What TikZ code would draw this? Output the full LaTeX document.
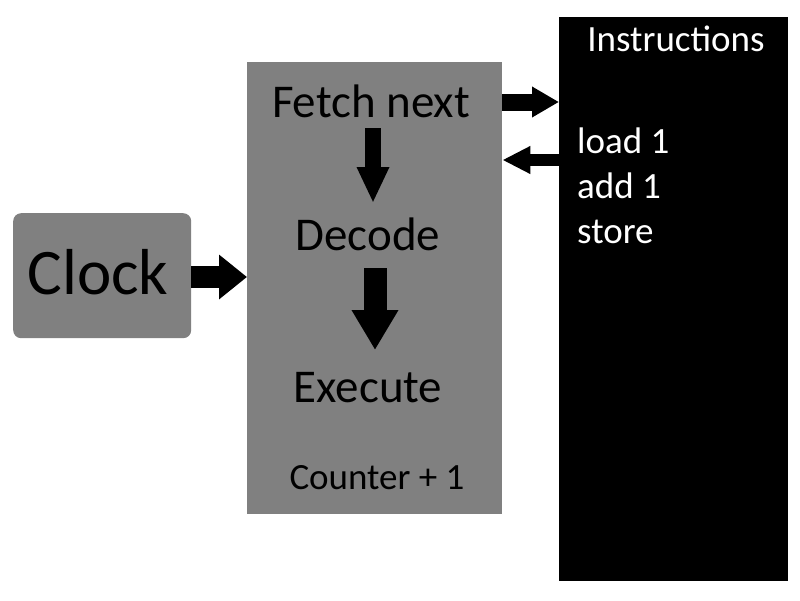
\documentclass[tikz,border=0pt]{standalone}
\usepackage{fontspec}
\setmainfont{Carlito}
\usetikzlibrary{arrows.meta,calc}
\definecolor{boxgray}{HTML}{808080}
\tikzset{
  graybox/.style={fill=boxgray, draw=none, inner sep=0pt, anchor=north west},
  blackbox/.style={fill=black, draw=none, inner sep=0pt, anchor=north west},
  lbl/.style={inner sep=0pt, anchor=base},
  blockarrow/.style n args={3}{draw=black, line width=#1pt, line cap=butt,
     -{Triangle[length=#2pt, width=#3pt]}}
}
\begin{document}
\begin{tikzpicture}[x=1pt, y=-1pt]
\useasboundingbox (0,0) rectangle (800,600);
\fill[white] (0,0) rectangle (800,600);
% boxes
\node[graybox, rounded corners=8pt, minimum width=178pt, minimum height=125pt] (clock) at (13,213) {};
\node[graybox, minimum width=255pt, minimum height=452pt] (cpu) at (247,62) {};
\node[blackbox, minimum width=229pt, minimum height=564pt] (instr) at (559,17) {};
% texts
\node[lbl] (clocktxt) at (98,294) {\fontsize{65}{70}\selectfont Clock};
\node[lbl] (fetch) at (371,117) {\fontsize{47}{52}\selectfont Fetch next};
\node[lbl] (decode) at (368,250) {\fontsize{47}{52}\selectfont Decode};
\node[lbl] (execute) at (368,402) {\fontsize{47}{52}\selectfont Execute};
\node[lbl] (counter) at (377,489) {\fontsize{37}{42}\selectfont Counter + 1};
\node[lbl, text=white] (title) at (676,51) {\fontsize{37}{42}\selectfont Instructions};
\node[lbl, anchor=base west, text=white] (l1) at (577,153) {\fontsize{37}{42}\selectfont load 1};
\node[lbl, anchor=base west, text=white] (l2) at (577,198) {\fontsize{37}{42}\selectfont add 1};
\node[lbl, anchor=base west, text=white] (l3) at (577,243) {\fontsize{37}{42}\selectfont store};
% arrow end points
\coordinate (d1s) at (373,128);
\coordinate (d1e) at (373,203);
\coordinate (d2s) at (375,268);
\coordinate (d2e) at (375,350);
% arrows
\draw[blockarrow={22}{28}{43}] ($(clock.north east)+(0,64)$) -- ($(cpu.north west)+(0,215)$);
\draw[blockarrow={17}{27}{29}] ($(cpu.north east)+(0,40)$) -- ($(instr.north west)+(0,85)$);
\draw[blockarrow={12}{28}{26}] ($(instr.north west)+(0,143)$) -- ($(cpu.north east)+(0,98)$);
\draw[blockarrow={16}{36}{30}] (d1s) -- (d1e);
\draw[blockarrow={23}{40}{44}] (d2s) -- (d2e);
\end{tikzpicture}
\end{document}
